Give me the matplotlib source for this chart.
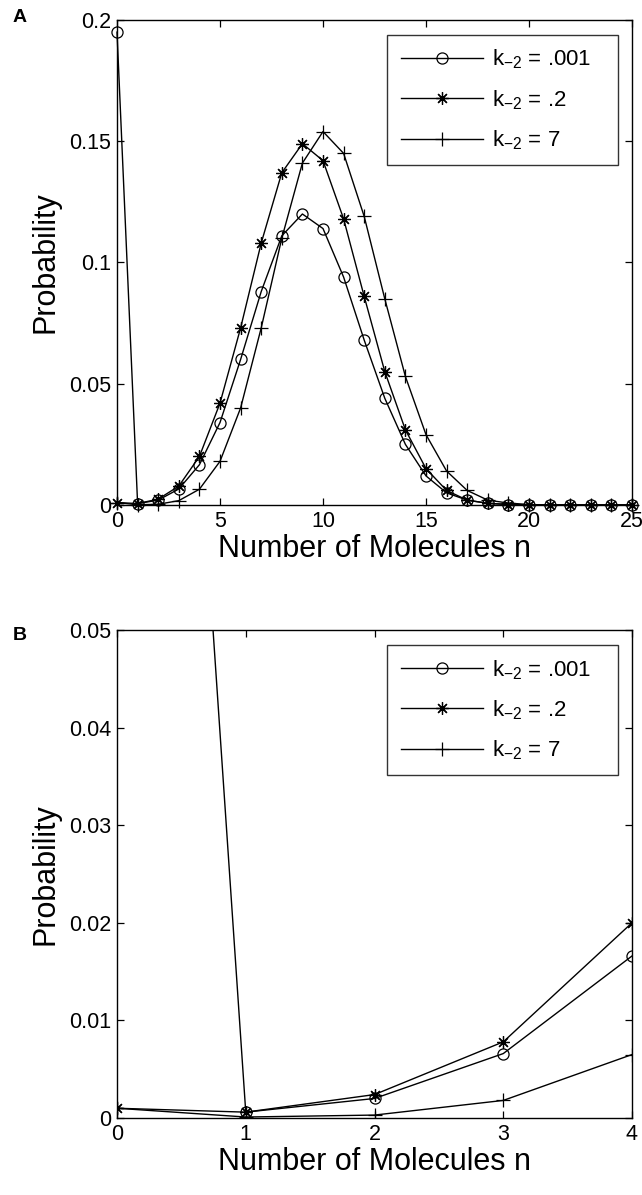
import matplotlib
matplotlib.use("Agg")
import matplotlib.pyplot as plt
import numpy as np

plt.rcParams['font.family'] = ['Liberation Sans', 'DejaVu Sans']
plt.rcParams['mathtext.fontset'] = 'custom'
plt.rcParams['mathtext.rm'] = 'Liberation Sans'
plt.rcParams['mathtext.it'] = 'Liberation Sans:italic'
plt.rcParams['mathtext.default'] = 'rm'

n = list(range(26))
p_001 = [0.195, 0.0006, 0.002, 0.0066, 0.0166, 0.034, 0.060, 0.088, 0.111, 0.120,
         0.114, 0.094, 0.068, 0.044, 0.025, 0.012, 0.005, 0.002, 0.0007, 0.0002,
         0.0, 0.0, 0.0, 0.0, 0.0, 0.0]
p_02 = [0.001, 0.0006, 0.0024, 0.0078, 0.020, 0.042, 0.073, 0.108, 0.137, 0.149,
        0.142, 0.118, 0.086, 0.055, 0.031, 0.015, 0.006, 0.002, 0.0007, 0.0002,
        0.0, 0.0, 0.0, 0.0, 0.0, 0.0]
p_7 = [0.001, 0.0001, 0.0003, 0.0018, 0.0065, 0.018, 0.040, 0.073, 0.110, 0.141,
       0.154, 0.145, 0.119, 0.085, 0.053, 0.029, 0.014, 0.006, 0.002, 0.0008,
       0.0002, 0.0, 0.0, 0.0, 0.0, 0.0]
labels = [r'k$_{-2}$ = .001', r'k$_{-2}$ = .2', r'k$_{-2}$ = 7']

xticks_a = [0, 5, 10, 15, 20, 25]
yticks_a = [0, 0.05, 0.1, 0.15, 0.2]
yticklabels_a = ['0', '0.05', '0.1', '0.15', '0.2']
xticks_b = [0, 1, 2, 3, 4]
yticks_b = [0, 0.01, 0.02, 0.03, 0.04, 0.05]
yticklabels_b = ['0', '0.01', '0.02', '0.03', '0.04', '0.05']

series = [p_001, p_02, p_7]
asterisk = (8, 2, 0)
styles = [dict(marker='o', markersize=8, markerfacecolor='none', markeredgewidth=0.9),
          dict(marker=asterisk, markersize=9, markeredgewidth=0.9),
          dict(marker='+', markersize=10, markeredgewidth=0.9)]

W, H = 642, 1195
fig = plt.figure(figsize=(W / 100, H / 100), dpi=100)
left, right = 117 / W, 632 / W
axA = fig.add_axes([left, 1 - 505 / H, right - left, (505 - 20) / H])
axB = fig.add_axes([left, 1 - 1118 / H, right - left, (1118 - 630) / H])

FS_TICK = 15.5
FS_LAB = 22
FS_LEG = 16

for ax, nmax, xt, yt, ytl, ylim, clip in [
        (axA, 25, xticks_a, yticks_a, yticklabels_a, (0, 0.2), False),
        (axB, 4, xticks_b, yticks_b, yticklabels_b, (0, 0.05), True)]:
    for ys, st, lab in zip(series, styles, labels):
        xs = n[:nmax + 1]
        yv = ys[:nmax + 1]
        ax.plot(xs, yv, color='black', linewidth=1.0, label=lab, clip_on=clip, **st)
    ax.set_xlim(0, nmax)
    ax.set_ylim(*ylim)
    ax.set_xticks(xt)
    ax.set_yticks(yt)
    ax.set_yticklabels(ytl)
    ax.tick_params(direction='in', top=True, right=True, labelsize=FS_TICK,
                   length=5, width=0.9, pad=4)
    for s in ax.spines.values():
        s.set_linewidth(1.0)
    ax.set_xlabel('Number of Molecules n', fontsize=FS_LAB, labelpad=2)
    ax.set_ylabel('Probability', fontsize=FS_LAB, labelpad=6)
    leg = ax.legend(loc='upper left', bbox_to_anchor=(0.525, 0.0, 0.448, 0.970),
                    mode='expand', fontsize=FS_LEG,
                    frameon=True, fancybox=False, edgecolor='black', handlelength=3.7,
                    borderaxespad=0, borderpad=0.6, labelspacing=0.75, handletextpad=0.4)
    leg.get_frame().set_linewidth(1.0)

fig.text(13 / W, 1 - 18 / H, 'A', fontsize=14, fontweight='bold', va='center', ha='left')
fig.text(13 / W, 1 - 635 / H, 'B', fontsize=14, fontweight='bold', va='center', ha='left')

fig.savefig('out.png', dpi=100)
